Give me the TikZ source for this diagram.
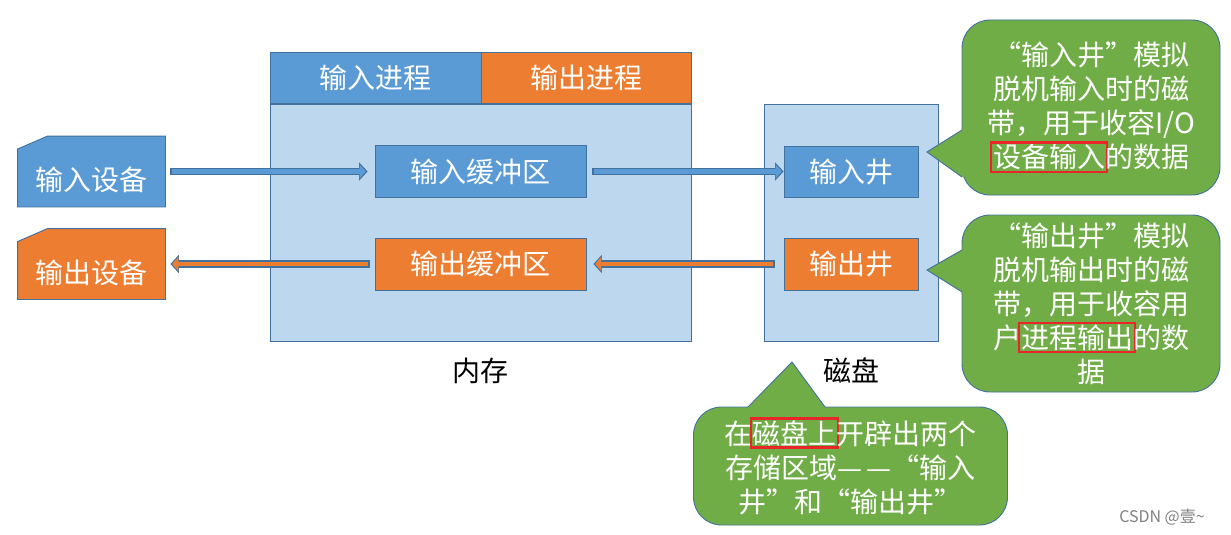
\documentclass[tikz,border=0pt]{standalone}
\usepackage{fontspec}
\setmainfont{Noto Sans CJK SC}
\usetikzlibrary{positioning}
\usetikzlibrary{arrows.meta}
\usetikzlibrary{backgrounds}

\definecolor{edgeblue}{HTML}{41719C}
\definecolor{procblue}{HTML}{5B9BD5}
\definecolor{procorange}{HTML}{ED7D31}
\definecolor{memblue}{HTML}{BDD7EE}
\definecolor{notegreen}{HTML}{70AD47}
\definecolor{markred}{HTML}{E8262A}

\newcommand{\cnfont}{\fontsize{28}{34}\selectfont}
\newcommand{\hilite}[1]{{\setlength{\fboxsep}{0.6pt}\setlength{\fboxrule}{2.3pt}\color{markred}\kern-2.9pt\fbox{\color{white}#1}\kern-2.9pt}}

\tikzset{
  box/.style={draw=edgeblue, line width=0.9pt, text=white, font=\cnfont, inner sep=0pt},
  store/.style={draw=edgeblue, line width=0.9pt, fill=memblue},
  note/.style={draw=edgeblue, line width=0.9pt, fill=notegreen, text=white, font=\cnfont, align=center, rounded corners=28pt, inner sep=0pt},
  pipe/.style={draw=edgeblue, line width=7.5pt, -{Triangle[length=8.5pt,width=18pt]},
    postaction={draw=#1, line width=4.8pt, shorten <=1.3pt, shorten >=1.7pt, -{Triangle[length=6.3pt,width=14pt]}}}
}

\begin{document}
\begin{tikzpicture}[x=1pt, y=-1pt]
        \useasboundingbox (0,0) rectangle (1231,535);

        % memory
        \node[store, minimum width=421pt, minimum height=237pt, name=mem] at (480.5,222.5) {};
        \node[box, fill=procblue, minimum width=211pt, minimum height=51pt, anchor=south west, name=inproc] at (mem.north west) {输入进程};
        \node[box, fill=procorange, minimum width=210pt, minimum height=51pt, anchor=south east, name=outproc] at (mem.north east) {输出进程};
        \node[box, fill=procblue, minimum width=211pt, minimum height=52pt, name=inbuf] at (480.5,171.5) {输入缓冲区};
        \node[box, fill=procorange, minimum width=211pt, minimum height=52pt, name=outbuf] at (480.5,264) {输出缓冲区};
        \node[font=\cnfont, below=13pt of mem, name=memlbl] {内存};

        % disk
        \node[store, minimum width=174pt, minimum height=237pt, name=disk] at (851,222.5) {};
        \node[box, fill=procblue, minimum width=134pt, minimum height=51pt, name=inwell] at (851,171.5) {输入井};
        \node[box, fill=procorange, minimum width=134pt, minimum height=52pt, name=outwell] at (851,264) {输出井};
        \node[font=\cnfont, below=13pt of disk, name=disklbl] {磁盘};

        % devices
        \node[box, draw=none, minimum width=147pt, minimum height=70pt, text height=40pt, text depth=2pt, name=indev] at (91.5,171.5) {输入设备};
        \node[box, draw=none, minimum width=147pt, minimum height=70pt, text height=40pt, text depth=2pt, name=outdev] at (91.5,264) {输出设备};
        \begin{scope}[on background layer]
            \draw[draw=edgeblue, line width=0.9pt, fill=procblue] (indev.south west) -- ([yshift=-13pt]indev.north west) -- ([xshift=30pt]indev.north west) -- (indev.north east) -- (indev.south east) -- cycle;
            \draw[draw=edgeblue, line width=0.9pt, fill=procorange] (outdev.south west) -- ([yshift=-13pt]outdev.north west) -- ([xshift=30pt]outdev.north west) -- (outdev.north east) -- (outdev.south east) -- cycle;
        \end{scope}

        \draw[pipe=procblue] ([xshift=5pt]indev.east) -- ([xshift=-7pt]inbuf.west);
        \draw[pipe=procblue] ([xshift=6pt]inbuf.east) -- (inwell.west);
        \draw[pipe=procorange] ([xshift=-9pt]outwell.west) -- ([xshift=7pt]outbuf.east);
        \draw[pipe=procorange] ([xshift=-5pt]outbuf.west) -- ([xshift=5pt]outdev.east);

        % notes
        \node[note, minimum width=258pt, minimum height=175pt, name=note1] at (1091,107.5) {“输入井”模拟\\脱机输入时的磁\\带，用于收容I/O\\\hilite{设备输入}的数据};
        \node[note, minimum width=258pt, minimum height=177pt, name=note2] at (1091,303.5) {“输出井”模拟\\脱机输出时的磁\\带，用于收容用\\户\hilite{进程输出}的数\\据};
        \node[note, minimum width=314pt, minimum height=118pt, name=note3] at (850.5,466) {在\hilite{磁盘上}开辟出两个\\存储区域—\,—“输入\\井”和“输出井”};

        \coordinate (tip1) at (927,152);
        \fill[notegreen] (tip1) -- (962,130) -- (964,130) -- (964,177) -- (962,177) -- cycle;
        \draw[edgeblue, line width=0.9pt] (962,130) -- (tip1) -- (962,177);
        \coordinate (tip2) at (927,270);
        \fill[notegreen] (tip2) -- (962,250) -- (964,250) -- (964,292) -- (962,292) -- cycle;
        \draw[edgeblue, line width=0.9pt] (962,250) -- (tip2) -- (962,292);
        \coordinate (tip3) at (792,362);
        \fill[notegreen] (tip3) -- (748,407) -- (748,409) -- (825,409) -- (825,407) -- cycle;
        \draw[edgeblue, line width=0.9pt] (748,407) -- (tip3) -- (825,407);

        \node[text=gray, font=\fontsize{16}{16}\selectfont, name=mark] at (1162,517) {CSDN @壹\textasciitilde};
    \end{tikzpicture}
\end{document}
